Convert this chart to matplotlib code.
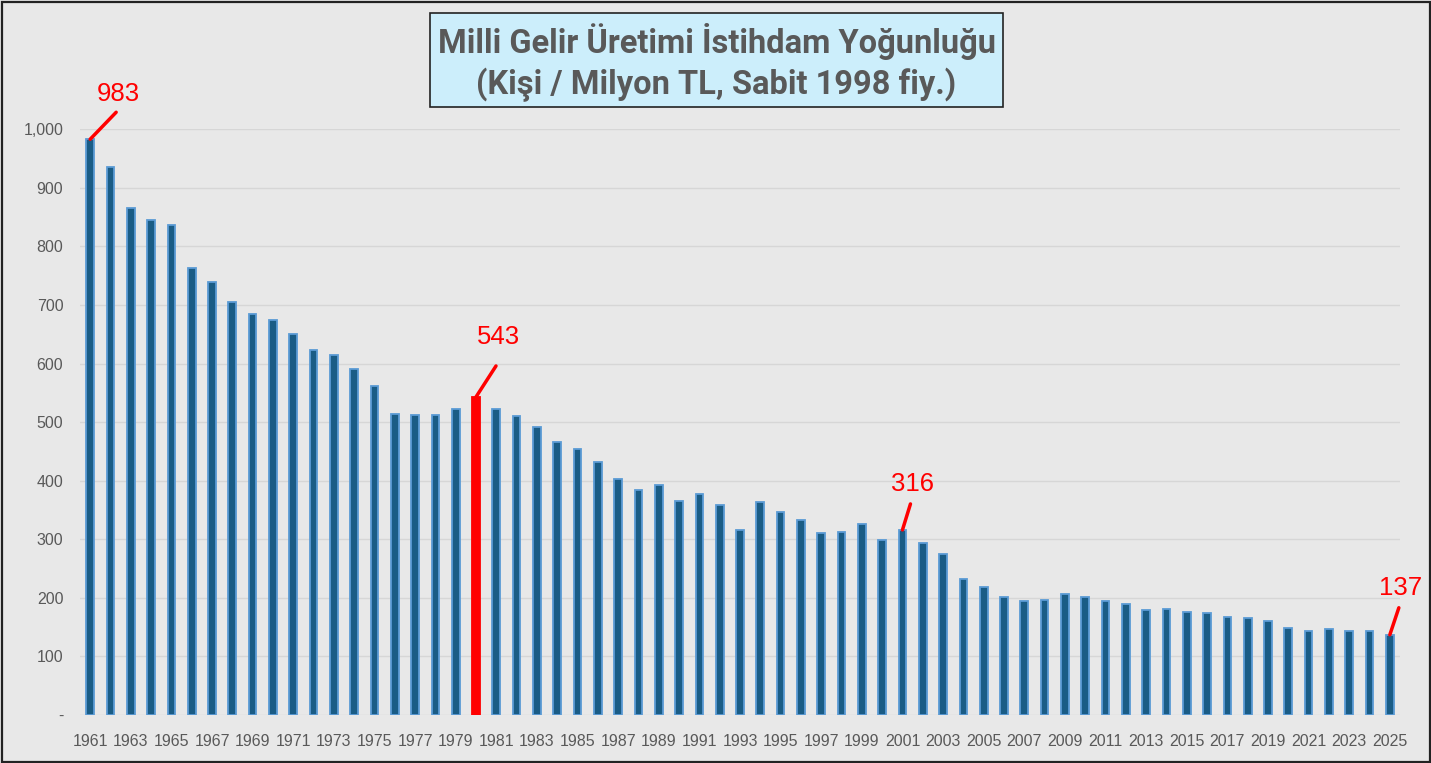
import matplotlib
matplotlib.use("Agg")
import matplotlib.pyplot as plt
from matplotlib.patches import Rectangle

years = list(range(1961, 2026))
values = [983, 936, 866, 845, 836, 763, 739, 705, 684, 674,
          650, 623, 614, 590, 561, 514, 513, 513, 523, 543,
          522, 510, 491, 466, 455, 432, 403, 384, 393, 366,
          378, 359, 316, 363, 347, 333, 311, 313, 326, 299,
          316, 294, 275, 233, 219, 201, 194, 196, 207, 202,
          194, 190, 180, 181, 176, 175, 168, 166, 160, 149,
          144, 146, 143, 143, 137]
highlight_year = 1980
labelled = {1961: (26, 27, 28, 45), 1980: (20, 31, 22, 60),
            2001: (8, 26, 10, 46), 2025: (9, 27, 11, 47)}
title_lines = ["Milli Gelir Üretimi İstihdam Yoğunluğu",
               "(Kişi / Milyon TL, Sabit 1998 fiy.)"]
yticks = list(range(0, 1001, 100))

bg = "#E8E8E8"
fig = plt.figure(figsize=(14.31, 7.63), dpi=100, facecolor=bg)
ax = fig.add_axes([80/1431, 1-715/763, 1320/1431, (715-129.3)/763])
ax.set_facecolor(bg)

x = list(range(len(years)))
colors = ["#FF0000" if y == highlight_year else "#1A5C85" for y in years]
edges = ["#FF0000" if y == highlight_year else "#5B9BD5" for y in years]
ax.bar(x, values, width=0.38, color=colors, edgecolor=edges, linewidth=1.3, zorder=3)

ax.set_xlim(-0.5, len(years)-0.5)
ax.set_ylim(0, 1000)
ax.set_yticks(yticks)
ax.set_yticklabels(["-" if v == 0 else f"{v:,}" for v in yticks])
ax.set_xticks(x[::2])
ax.set_xticklabels([str(y) for y in years[::2]])
ax.grid(axis="y", color="#D6D6D6", linewidth=1, zorder=0)
for s in ax.spines.values():
    s.set_visible(False)
ax.tick_params(axis="both", length=0, colors="#595959", labelsize=11.5)
ax.tick_params(axis="x", pad=14)
ax.tick_params(axis="y", pad=12)
for lab in ax.get_xticklabels() + ax.get_yticklabels():
    lab.set_fontfamily("Liberation Sans")

for yr, (lx, ly, tx, ty) in labelled.items():
    i = years.index(yr)
    v = values[i]
    ax.annotate("", xy=(i, v), xytext=(lx, ly), textcoords="offset pixels",
                arrowprops=dict(arrowstyle="-", color="#FF0000", lw=2.5,
                                shrinkA=0, shrinkB=0), annotation_clip=False, zorder=5)
    ax.annotate(f"{v}", xy=(i, v), xytext=(tx, ty), textcoords="offset pixels",
                ha="center", va="center", color="#FF0000", fontsize=18.5,
                fontfamily="Liberation Sans", annotation_clip=False, zorder=5)

# title box
fig.patches.append(Rectangle((430/1431, 1-107/763), 573/1431, 94/763,
                             transform=fig.transFigure, facecolor="#CCEEFB",
                             edgecolor="#222222", linewidth=1.2, zorder=10))
fig.text(716.5/1431, 1-41/763, title_lines[0], ha="center", va="center",
         fontsize=23.5, fontweight="bold", color="#595959", fontfamily="Roboto", zorder=11)
fig.text(716.5/1431, 1-85/763, title_lines[1], ha="center", va="center",
         fontsize=23.5, fontweight="bold", color="#595959", fontfamily="Roboto", zorder=11)

# outer border
fig.patches.append(Rectangle((1.5/1431, 1.5/763), 1428/1431, 760/763,
                             transform=fig.transFigure, facecolor="none",
                             edgecolor="#222222", linewidth=1.6, zorder=12))

fig.savefig("out.png", dpi=100, facecolor=bg)
